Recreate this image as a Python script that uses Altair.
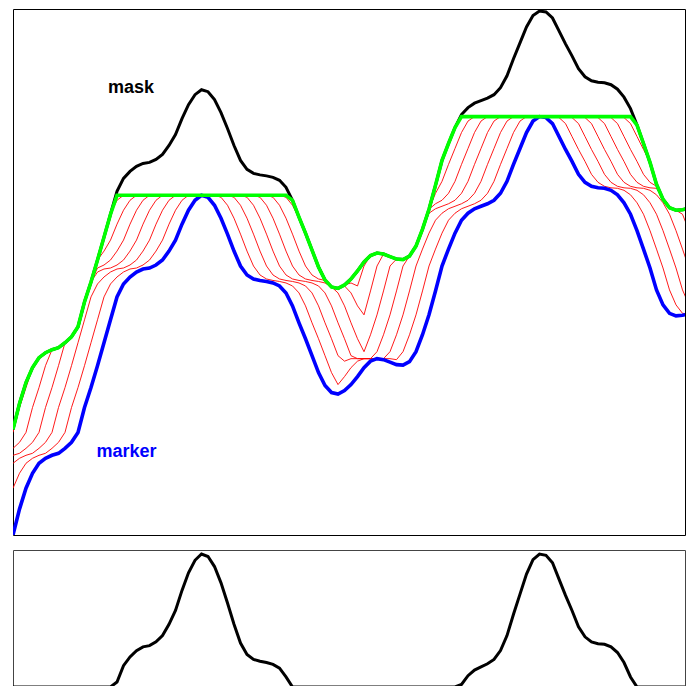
import altair as alt
import pandas as pd

# mask (grey-level image profile), one sample per 6.5 px
MASK = [106, 132, 153, 168, 178, 183, 186, 188, 193, 199,
        209, 234, 254, 276, 299, 322, 345, 358, 365, 370,
        373, 374, 377, 382, 391, 402, 418, 432, 442, 447,
        445, 437, 424, 408, 391, 376, 367, 363, 361.5, 360.5,
        359, 356, 349, 336, 319, 303, 286, 269, 256, 249,
        247.5, 251, 257, 265, 274, 280.5, 283, 282, 279.5, 277,
        276.5, 280, 290, 307, 327, 351, 376, 393, 409, 422,
        429, 433.5, 436, 438.5, 442, 449, 461, 478, 494, 510,
        521.5, 526, 525, 519, 506, 493, 481, 468, 460, 456,
        454.5, 454, 452, 447.5, 439.5, 428, 411.5, 393, 374, 352,
        337, 328.5, 326, 326.5, 328]

# marker profile
MARKER = [0, 26, 47, 62, 72, 77, 80, 82, 87, 93,
          103, 128, 148, 170, 193, 216, 239, 252, 259, 264,
          267, 268, 271, 276, 285, 296, 312, 326, 336, 341,
          339, 331, 318, 302, 285, 270, 261, 257, 255.5, 254.5,
          253, 250, 243, 230, 213, 197, 180, 163, 150, 143,
          141.5, 145, 151, 159, 168, 174.5, 177, 176, 173.5, 171,
          170.5, 174, 184, 201, 221, 245, 270, 287, 303, 316,
          323, 327.5, 330, 332.5, 336, 343, 355, 372, 388, 404,
          415.5, 420, 419, 413, 400, 387, 375, 362, 354, 350,
          348.5, 348, 346, 341.5, 333.5, 322, 305.5, 287, 268, 246,
          231, 222.5, 220, 220.5, 222]

LABEL_TEXT = ["mask", "marker"]
LABEL_COLOR = ["#000000", "#0000ff"]
LABEL_I = [18.15, 17.46]
LABEL_V = [444, 78]

N_ITER = 12       # number of dilation steps drawn
HALF = 2          # growth of the flat structuring element per step (samples)

df = pd.DataFrame({"i": list(range(len(MASK))), "mask": MASK, "marker": MARKER})
labels = pd.DataFrame({"text": LABEL_TEXT, "color": LABEL_COLOR, "i": LABEL_I, "v": LABEL_V})

W = 672
XDOM = [0, W / 6.5]


def iterate(chart):
    for k in range(1, N_ITER + 1):
        chart = chart.transform_window(
            **{f"d{k}": "max(marker)"}, frame=[-HALF * k, HALF * k], sort=[alt.SortField("i")]
        )
        chart = chart.transform_calculate(**{f"v{k}": f"min(datum.d{k}, datum.mask)"})
    return chart


base = iterate(alt.Chart(df))
x_enc = alt.X("i:Q", scale=alt.Scale(domain=XDOM, nice=False, zero=False), axis=None)
y_scale = alt.Scale(domain=[0, 528], nice=False, zero=False)

steps = [f"v{k}" for k in range(1, N_ITER + 1)]
red = base.transform_fold(steps, as_=["step", "val"]).mark_line(
    color="#ff0000", strokeWidth=0.9, clip=True
).encode(x=x_enc, y=alt.Y("val:Q", scale=y_scale, axis=None), detail="step:N")

blue = base.mark_line(color="#0000ff", strokeWidth=3.6, clip=True).encode(
    x=x_enc, y=alt.Y("marker:Q", scale=y_scale, axis=None)
)
black = base.mark_line(color="#000000", strokeWidth=3, clip=True).encode(
    x=x_enc, y=alt.Y("mask:Q", scale=y_scale, axis=None)
)
green = base.mark_line(color="#00ff00", strokeWidth=3.6, clip=True).encode(
    x=x_enc, y=alt.Y(f"v{N_ITER}:Q", scale=y_scale, axis=None)
)
text = alt.Chart(labels).mark_text(
    font="Liberation Sans", fontSize=18, fontWeight="bold", align="center", baseline="alphabetic"
).encode(
    x=alt.X("i:Q", scale=alt.Scale(domain=XDOM, nice=False, zero=False), axis=None),
    y=alt.Y("v:Q", scale=y_scale, axis=None),
    text="text:N",
    color=alt.Color("color:N", scale=None),
)

top = alt.layer(red, blue, black, green, text).properties(
    width=W, height=526, view=alt.ViewBackground(stroke="#000000", strokeWidth=1)
)

bottom = base.transform_calculate(hdome=f"datum.mask - datum.v{N_ITER}").mark_line(
    color="#000000", strokeWidth=3, clip=True
).encode(
    x=x_enc,
    y=alt.Y("hdome:Q", scale=alt.Scale(domain=[0.8, 109.2], nice=False, zero=False), axis=None),
).properties(width=W, height=136, view=alt.ViewBackground(stroke="#444444", strokeWidth=1))

chart = alt.vconcat(top, bottom, spacing=13).properties(
    padding={"left": 4, "top": 0, "right": 0, "bottom": 0}
).configure_view(fill="white")

chart.save("out.html", embed_options={"renderer": "svg", "actions": False})
